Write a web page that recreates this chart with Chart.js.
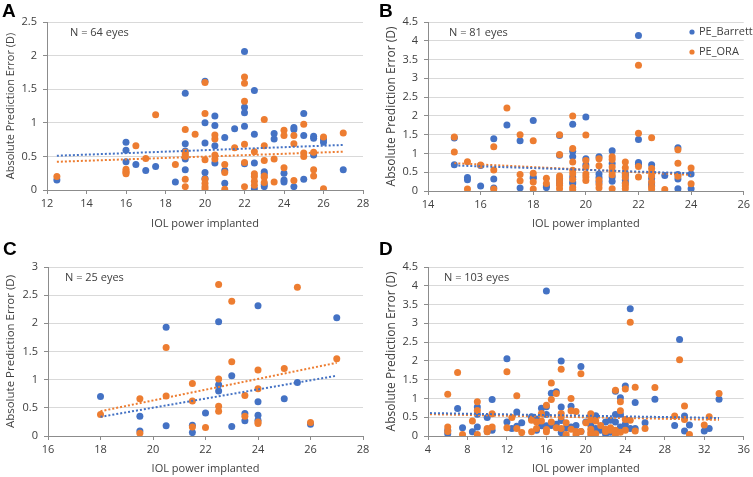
<!DOCTYPE html>
<html>
<head>
<meta charset="utf-8">
<script src="https://cdn.jsdelivr.net/npm/chart.js@4.4.0/dist/chart.umd.min.js"></script>
<style>
  html, body { margin: 0; padding: 0; background: #fff; }
  #wrap { position: relative; width: 753px; height: 477px; overflow: hidden; }
  canvas { position: absolute; }
</style>
</head>
<body>
<div id="wrap">
  <canvas id="panelA" width="376" height="238" style="left:0;top:0"></canvas>
  <canvas id="panelB" width="377" height="238" style="left:376px;top:0"></canvas>
  <canvas id="panelC" width="376" height="239" style="left:0;top:238px"></canvas>
  <canvas id="panelD" width="377" height="239" style="left:376px;top:238px"></canvas>
</div>
<script>
// ---- data: [IOL power, absolute prediction error] ----
const seriesNames = ['PE_Barrett', 'PE_ORA'];

const aBarrett = [[12.5,0.15],[16,0.71],[16,0.59],[16,0.42],[16.5,0.38],[17,0.29],[17.5,0.35],[18.5,0.12],
  [19,1.44],[19,0.69],[19,0.58],[19,0.46],[19,0.30],[20,1.62],[20,1.0],[20,0.70],[20,0.26],[20,0.17],
  [20.5,1.10],[20.5,0.96],[20.5,0.66],[20.5,0.40],[21,0.78],[21,0.29],[21,0.10],[21.5,0.91],
  [22,2.06],[22,1.23],[22,1.15],[22,0.95],[22,0.39],[22.5,1.48],[22.5,0.83],[22.5,0.40],[22.5,0.02],
  [23,0.27],[23,0.24],[23,0.08],[23,0.05],[23.5,0.84],[23.5,0.76],[24,0.25],[24,0.15],[24,0.12],
  [24.5,0.93],[24.5,0.90],[24.5,0.05],[25,1.14],[25,0.81],[25,0.16],[25.5,0.80],[25.5,0.77],[25.5,0.52],
  [26,0.75],[26,0.71],[27,0.30]];
const aORA = [[12.5,0.20],[16,0.31],[16,0.28],[16,0.26],[16,0.24],[16.5,0.66],[17,0.47],[17.5,1.12],[18.5,0.38],
  [19,0.90],[19,0.56],[19,0.53],[19,0.50],[19,0.16],[19,0.05],[19.5,0.83],
  [20,1.60],[20,1.14],[20,0.45],[20,0.16],[20,0.10],[20,0.05],[20,0.02],
  [20.5,0.82],[20.5,0.76],[20.5,0.52],[20.5,0.46],[21,0.38],[21,0.26],[21,0.01],[21.5,0.63],
  [22,1.68],[22,1.59],[22,1.32],[22,0.68],[22,0.41],[22,0.05],
  [22.5,0.57],[22.5,0.24],[22.5,0.20],[22.5,0.13],[22.5,0.07],
  [23,1.05],[23,0.66],[23,0.44],[23,0.21],[23,0.19],[23,0.11],[23.5,0.46],[23.5,0.12],
  [24,0.89],[24,0.81],[24,0.33],[24.5,0.81],[24.5,0.69],[24.5,0.14],[25,0.98],[25,0.55],[25,0.50],
  [25.5,0.56],[25.5,0.30],[25.5,0.21],[26,0.79],[26,0.02],[27,0.85]];
const aTrendBarrett = [[12.5,0.51],[27,0.67]];
const aTrendORA = [[12.5,0.42],[27,0.57]];

const bBarrett = [[15,1.41],[15,0.70],[15.5,0.36],[15.5,0.30],[16,0.13],[16,0.68],
  [16.5,1.39],[16.5,0.32],[16.5,0.08],[17,1.76],[17.5,1.34],[17.5,0.08],
  [18,1.88],[18,0.37],[18,0.34],[18.5,0.13],[18.5,0.09],
  [19,1.48],[19,0.95],[19,0.29],[19,0.20],
  [19.5,1.78],[19.5,1.06],[19.5,0.92],[19.5,0.37],[19.5,0.24],[19.5,0.20],
  [20,1.97],[20,0.86],[20,0.69],[20.5,0.91],[20.5,0.45],[20.5,0.36],[20.5,0.24],
  [21,1.07],[21,0.73],[21,0.37],[21,0.26],[21.5,0.46],[21.5,0.40],[21.5,0.29],[21.5,0.22],
  [22,4.14],[22,1.37],[22,0.76],[22,0.71],[22.5,0.70],[22.5,0.33],[22.5,0.21],[22.5,0.14],
  [23,0.41],[23.5,1.15],[23.5,0.44],[23.5,0.32],[23.5,0.06],[24,0.45],[24,0.06]];
const bORA = [[15,1.44],[15,1.04],[15.5,0.78],[15.5,0.05],[16,0.69],
  [16.5,1.18],[16.5,0.56],[16.5,0.05],[17,2.21],[17.5,1.50],[17.5,0.44],[17.5,0.27],
  [18,1.34],[18,0.47],[18,0.24],[18,0.05],[18.5,0.34],[18.5,0.20],
  [19,1.50],[19,0.97],[19,0.40],[19,0.33],[19,0.24],[19,0.15],[19,0.06],
  [19.5,2.00],[19.5,1.13],[19.5,0.77],[19.5,0.55],[19.5,0.46],[19.5,0.31],[19.5,0.09],[19.5,0.04],
  [20,1.49],[20,0.81],[20,0.64],[20,0.45],[20,0.37],[20,0.28],
  [20.5,0.86],[20.5,0.67],[20.5,0.29],[20.5,0.17],[20.5,0.08],
  [21,0.91],[21,0.84],[21,0.64],[21,0.52],[21,0.43],[21,0.06],
  [21.5,0.77],[21.5,0.62],[21.5,0.46],[21.5,0.36],[21.5,0.19],[21.5,0.13],[21.5,0.06],
  [22,3.35],[22,1.54],[22,0.65],[22,0.37],
  [22.5,1.42],[22.5,0.60],[22.5,0.49],[22.5,0.40],[22.5,0.24],[22.5,0.11],[22.5,0.05],
  [23,0.04],[23.5,1.10],[23.5,0.74],[23.5,0.39],[24,0.61],[24,0.19]];
const bTrendBarrett = [[15,0.68],[24,0.47]];
const bTrendORA = [[15,0.74],[24,0.43]];

const cBarrett = [[18,0.70],[19.5,0.35],[19.5,0.09],[20.5,1.93],[20.5,0.18],[21.5,0.19],[21.5,0.06],[22,0.41],
  [22.5,2.03],[22.5,0.91],[22.5,0.80],[23,1.07],[23,0.17],[23.5,0.40],[23.5,0.27],
  [24,2.31],[24,0.61],[24,0.37],[24,0.28],[25,0.66],[25.5,0.95],[26,0.21],[27,2.10]];
const cORA = [[18,0.38],[19.5,0.66],[19.5,0.05],[20.5,1.57],[20.5,0.71],[21.5,0.93],[21.5,0.62],[21.5,0.16],[22,0.15],
  [22.5,2.69],[22.5,1.01],[22.5,0.53],[22.5,0.44],[23,2.39],[23,1.32],[23.5,0.72],[23.5,0.35],
  [24,1.17],[24,0.84],[24,0.25],[24,0.22],[25,1.20],[25.5,2.64],[26,0.24],[27,1.37]];
const cTrendBarrett = [[18,0.34],[27,1.07]];
const cTrendORA = [[18,0.44],[27,1.30]];

const dBarrett = [[6,0.15],[6,0.06],[7,0.73],[7.5,0.22],[8.5,0.11],[9,0.77],[9,0.58],[9,0.24],[10,0.49],[10,0.12],
  [10.5,0.97],[10.5,0.15],[12,2.06],[12,0.37],[12.5,0.20],[13,0.64],[13,0.26],[13.5,0.35],[14.5,0.51],[14.5,0.46],
  [15,0.15],[15,0.45],[15.5,0.74],[15.5,0.27],[16,3.86],[16,0.78],[16,0.57],[16,0.27],[16.5,1.14],[16.5,0.28],
  [17,1.18],[17,0.31],[17.5,2.00],[17.5,0.77],[17.5,0.41],[17.5,0.09],[18,0.22],[18.5,0.79],[18.5,0.24],[19,0.28],
  [19.5,1.85],[19.5,0.12],[20,0.37],[20.5,0.53],[20.5,0.29],[21,0.54],[21,0.20],[21.5,0.15],[22,0.37],[22,0.05],
  [22.5,0.42],[22.5,0.10],[23,1.19],[23,0.57],[23,0.37],[23.5,1.02],[23.5,0.58],[23.5,0.24],[24,1.33],[24,0.31],
  [24.5,3.39],[24.5,0.20],[25,0.89],[25,0.20],[26,0.35],[27,0.98],[29,0.28],[29.5,2.57],[30,0.53],[30,0.13],
  [30.5,0.29],[32,0.13],[32.5,0.20],[33.5,0.98]];
const dORA = [[6,1.11],[6,0.24],[6,0.12],[7,1.69],[7.5,0.04],[8.5,0.40],[9,0.91],[9,0.68],[9,0.04],[10,0.20],
  [10,0.16],[10,0.11],[10.5,0.59],[10.5,0.24],[12,1.71],[12,0.22],[12.5,0.49],[13,1.07],[13,0.20],[13.5,0.09],
  [14.5,0.42],[14.5,0.11],[15,0.20],[15,0.37],[15.5,0.60],[15.5,0.40],[16,0.82],[16,0.17],[16,0.11],[16.5,1.41],
  [16.5,0.97],[16.5,0.37],[17,1.13],[17,0.22],[17.5,1.78],[17.5,0.60],[17.5,0.51],[17.5,0.20],[18,0.04],[18,0.35],
  [18.5,1.00],[18.5,0.67],[18.5,0.18],[19,0.65],[19,0.12],[19,0.04],[19.5,1.66],[19.5,0.12],[20,0.35],[20.5,0.59],
  [20.5,0.43],[20.5,0.18],[20.5,0.09],[20.5,0.04],[21,0.40],[21,0.06],[21.5,0.28],[22,0.18],[22,0.12],[22.5,0.22],
  [22.5,0.15],[23,1.22],[23,0.15],[23,0.04],[23.5,0.91],[23.5,0.67],[23.5,0.10],[24,1.25],[24,0.44],[24,0.15],
  [24.5,3.03],[24.5,0.42],[25,1.30],[25,0.13],[26,0.20],[27,1.29],[29,0.53],[29.5,2.03],[30,0.80],[30,0.44],
  [30.5,0.04],[32,0.29],[32.5,0.51],[33.5,1.13]];
const dTrendBarrett = [[4.2,0.61],[33.5,0.48]];
const dTrendORA = [[4.2,0.58],[33.5,0.43]];

// tick labels
const xTicksA = [12, 14, 16, 18, 20, 22, 24, 26, 28];
const xTicksB = [14, 16, 18, 20, 22, 24, 26];
const xTicksC = [16, 18, 20, 22, 24, 26, 28];
const xTicksD = [4, 8, 12, 16, 20, 24, 28, 32, 36];
const yTicksA = [0, 0.5, 1, 1.5, 2, 2.5];
const yTicksB = [0, 0.5, 1, 1.5, 2, 2.5, 3, 3.5, 4, 4.5];
const yTicksC = [0, 0.5, 1, 1.5, 2, 2.5, 3];
const yTicksD = [0, 0.5, 1, 1.5, 2, 2.5, 3, 3.5, 4, 4.5];

const BLUE = '#4472c4';
const ORANGE = '#ed7d31';
const TEXT = '#404040';
const AXIS = '#8c8c8c';
const GRID = '#d9d9d9';

Chart.defaults.font.family = '"Open Sans", sans-serif';
Chart.defaults.font.size = 11;
Chart.defaults.color = TEXT;

// letters, "N = .. eyes" and the legend of panel B
const panelNotes = {
  id: 'panelNotes',
  afterDraw(chart, args, opts) {
    const ctx = chart.ctx;
    const area = chart.chartArea;
    ctx.save();
    ctx.fillStyle = '#000';
    ctx.font = 'bold 19px "Liberation Sans", Arial, sans-serif';
    ctx.textBaseline = 'alphabetic';
    ctx.fillText(opts.letter, opts.letterX, 17);

    ctx.fillStyle = TEXT;
    ctx.font = '11px "Open Sans", sans-serif';
    ctx.textBaseline = 'middle';
    ctx.fillText(opts.note, area.left + opts.noteDx, area.top + opts.noteDy);

    if (opts.legend) {
      const items = [[seriesNames[0], BLUE], [seriesNames[1], ORANGE]];
      items.forEach((it, i) => {
        const y = opts.legend.y + i * opts.legend.gap;
        ctx.fillStyle = it[1];
        ctx.beginPath();
        ctx.arc(opts.legend.x, y, 2.6, 0, Math.PI * 2);
        ctx.fill();
        ctx.fillStyle = TEXT;
        ctx.fillText(it[0], opts.legend.x + 7, y);
      });
    }
    ctx.restore();
  }
};

function toXY(pts) {
  return pts.map(p => ({ x: p[0], y: p[1] }));
}

function dots(label, pts, color, order) {
  return { label, data: toXY(pts), backgroundColor: color, borderColor: color,
    borderWidth: 0, pointRadius: 3.5, order };
}

function trend(label, pts, color) {
  return { label, data: toXY(pts), borderColor: color, backgroundColor: color,
    showLine: true, borderWidth: 2, borderDash: [2, 2], pointRadius: 0, fill: false, order: 0 };
}

function makePanel(id, p) {
  new Chart(document.getElementById(id), {
    type: 'scatter',
    data: {
      datasets: [
        trend('trend Barrett', p.trendBarrett, BLUE),
        trend('trend ORA', p.trendORA, ORANGE),
        dots(seriesNames[1], p.ora, ORANGE, 1),
        dots(seriesNames[0], p.barrett, BLUE, 2)
      ]
    },
    options: {
      responsive: false,
      animation: false,
      events: [],
      layout: { padding: { top: p.padTop, right: p.padRight, left: 0, bottom: 0 } },
      plugins: {
        legend: { display: false },
        tooltip: { enabled: false },
        panelNotes: p.notes
      },
      scales: {
        x: {
          type: 'linear',
          min: p.xTicks[0],
          max: p.xTicks[p.xTicks.length - 1],
          afterBuildTicks: s => { s.ticks = p.xTicks.map(v => ({ value: v })); },
          afterFit: s => { s.height = p.xHeight; },
          ticks: { callback: v => String(v), padding: 3, maxRotation: 0, autoSkip: false, color: TEXT },
          grid: { drawOnChartArea: false, tickLength: 4, tickColor: AXIS },
          border: { color: AXIS },
          title: { display: true, text: 'IOL power implanted', color: TEXT,
            font: { size: 11 }, padding: { top: 0, bottom: p.xTitlePad } }
        },
        y: {
          type: 'linear',
          min: 0,
          max: p.yTicks[p.yTicks.length - 1],
          afterBuildTicks: s => { s.ticks = p.yTicks.map(v => ({ value: v })); },
          afterFit: s => { s.width = p.yWidth; },
          ticks: { callback: v => String(v), padding: 6, color: TEXT },
          grid: { color: GRID, tickLength: 4, tickColor: AXIS },
          border: { color: AXIS },
          title: { display: true, text: 'Absolute Prediction Error (D)', color: TEXT,
            font: { size: p.yTitleSize }, padding: { top: p.yTitlePad, bottom: 0 } }
        }
      }
    },
    plugins: [panelNotes]
  });
}

makePanel('panelA', {
  barrett: aBarrett, ora: aORA, trendBarrett: aTrendBarrett, trendORA: aTrendORA,
  xTicks: xTicksA, yTicks: yTicksA,
  padTop: 22, padRight: 13, yWidth: 47, xHeight: 48, xTitlePad: 8, yTitlePad: 4, yTitleSize: 11,
  notes: { letter: 'A', letterX: 2, note: 'N = 64 eyes', noteDx: 23, noteDy: 11 }
});

makePanel('panelB', {
  barrett: bBarrett, ora: bORA, trendBarrett: bTrendBarrett, trendORA: bTrendORA,
  xTicks: xTicksB, yTicks: yTicksB,
  padTop: 22, padRight: 9, yWidth: 52, xHeight: 47, xTitlePad: 8, yTitlePad: 8, yTitleSize: 12,
  notes: { letter: 'B', letterX: 3, note: 'N = 81 eyes', noteDx: 21, noteDy: 11,
    legend: { x: 316, y: 32, gap: 20 } }
});

makePanel('panelC', {
  barrett: cBarrett, ora: cORA, trendBarrett: cTrendBarrett, trendORA: cTrendORA,
  xTicks: xTicksC, yTicks: yTicksC,
  padTop: 29, padRight: 13, yWidth: 48, xHeight: 41, xTitlePad: 2, yTitlePad: 4, yTitleSize: 11.5,
  notes: { letter: 'C', letterX: 3, note: 'N = 25 eyes', noteDx: 17, noteDy: 11 }
});

makePanel('panelD', {
  barrett: dBarrett, ora: dORA, trendBarrett: dTrendBarrett, trendORA: dTrendORA,
  xTicks: xTicksD, yTicks: yTicksD,
  padTop: 29, padRight: 9, yWidth: 52, xHeight: 41, xTitlePad: 2, yTitlePad: 8, yTitleSize: 12,
  notes: { letter: 'D', letterX: 3, note: 'N = 103 eyes', noteDx: 16, noteDy: 11 }
});
</script>
</body>
</html>
